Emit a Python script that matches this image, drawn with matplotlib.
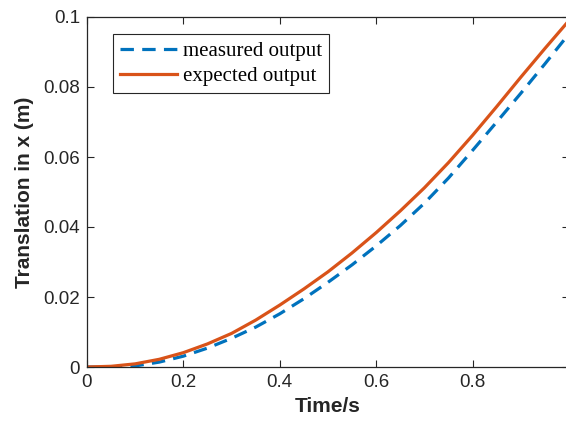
import matplotlib.pyplot as plt
import numpy as np

# time axis (s)
t = [0.0, 0.05, 0.1, 0.15, 0.2, 0.25, 0.3, 0.35, 0.4, 0.45, 0.5,
     0.55, 0.6, 0.65, 0.7, 0.75, 0.8, 0.85, 0.9, 0.95, 1.0]

measured = [0.0, 0.0000, 0.0003, 0.0014, 0.0031, 0.0054, 0.0082, 0.0114, 0.0152, 0.0195, 0.0242,
            0.0292, 0.0346, 0.0404, 0.0468, 0.0540, 0.0619, 0.0700, 0.0782, 0.0866, 0.0952]
expected = [0.0, 0.0002, 0.0009, 0.0022, 0.0041, 0.0066, 0.0096, 0.0134, 0.0177, 0.0223, 0.0272,
            0.0326, 0.0384, 0.0446, 0.0512, 0.0584, 0.0662, 0.0744, 0.0828, 0.0910, 0.0990]

xticks = [0, 0.2, 0.4, 0.6, 0.8]
yticks = [0, 0.02, 0.04, 0.06, 0.08, 0.1]

fig = plt.figure(figsize=(5.66, 4.28), dpi=100)
W, H = 566, 428
# axes box in pixels: left 87, right 569 (cut off by the image), top 17, bottom 367
ax = fig.add_axes([87 / W, (H - 367) / H, (569 - 87) / W, (367 - 17) / H])

ax.plot(t, measured, color="#0072BD", lw=2.3, dashes=(4.2, 2.6), label="measured output")
ax.plot(t, expected, color="#D95319", lw=2.3, label="expected output")

ax.set_xlim(0, 1)
ax.set_ylim(0, 0.1)
ax.set_xticks(xticks)
ax.set_yticks(yticks)
ax.set_xticklabels(["0", "0.2", "0.4", "0.6", "0.8"])
ax.set_yticklabels(["0", "0.02", "0.04", "0.06", "0.08", "0.1"])

sans = ["Liberation Sans", "DejaVu Sans"]
for lab in ax.get_xticklabels() + ax.get_yticklabels():
    lab.set_fontfamily(sans)
    lab.set_fontsize(13.5)
    lab.set_color("#262626")

ax.tick_params(direction="in", length=5, width=0.8, top=True, right=True, colors="#262626",
               labelcolor="#262626", pad=5)
for s in ax.spines.values():
    s.set_color("#262626")
    s.set_linewidth(0.9)

ax.set_xlabel("Time/s", fontsize=15, fontweight="bold", family=sans, color="#262626", labelpad=4)
ax.set_ylabel("Translation in x (m)", fontsize=15, fontweight="bold", family=sans, color="#262626",
              labelpad=7)

leg = ax.legend(loc="upper left", bbox_to_anchor=(0.054, 0.951), borderaxespad=0,
                prop={"family": ["Liberation Serif", "DejaVu Serif"], "size": 15},
                handlelength=2.7, handletextpad=0.3, fancybox=False, framealpha=1,
                borderpad=0.35, labelspacing=0.25)
leg.get_frame().set_edgecolor("#262626")
leg.get_frame().set_linewidth(0.8)

fig.savefig("out.png", dpi=100)
